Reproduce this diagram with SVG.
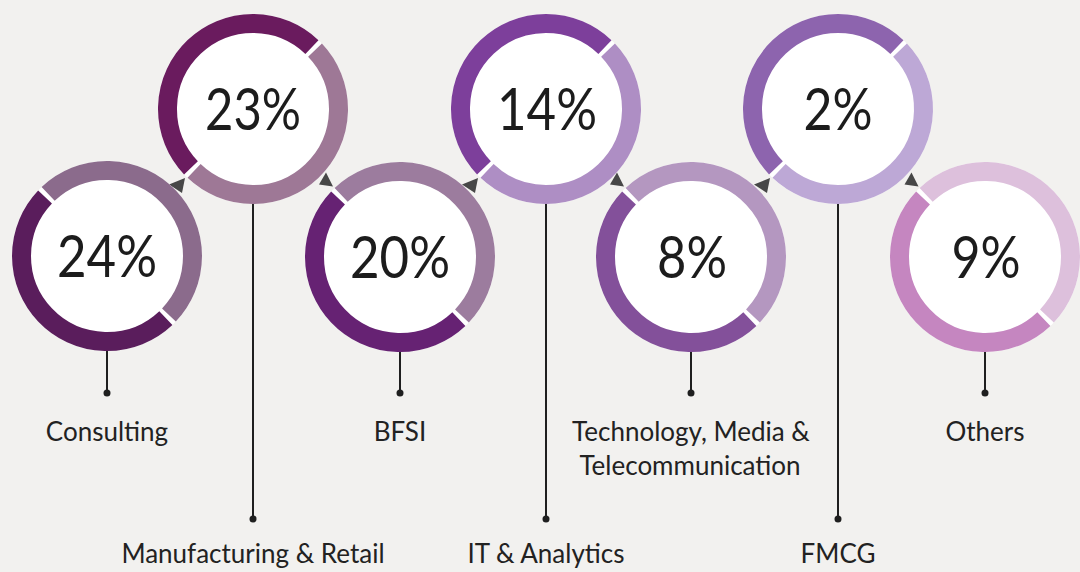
<svg xmlns="http://www.w3.org/2000/svg" width="1080" height="572" viewBox="0 0 1080 572">
<style>
.bg{fill:#f2f1ef}
.disc{fill:#ffffff}
.seg{fill:none;stroke-width:19}
.pct{font-family:"Lato","Liberation Sans",sans-serif;font-size:58px;fill:#1c1c1c;text-anchor:middle}
.lbl{font-family:"Lato","Liberation Sans",sans-serif;font-size:26px;fill:#222222;text-anchor:middle}
.stem{stroke:#1f1f1f;stroke-width:2;fill:none}
.dot{fill:#1f1f1f}
.tri{fill:#474747}
</style>
<rect class="bg" x="0" y="0" width="1080" height="572"/>
<g id="connectors">
<line class="stem" x1="107" y1="350" x2="107" y2="393"/><circle class="dot" cx="107" cy="393" r="3.5"/>
<line class="stem" x1="253" y1="204" x2="253" y2="519"/><circle class="dot" cx="253" cy="519" r="3.5"/>
<line class="stem" x1="400" y1="351" x2="400" y2="393"/><circle class="dot" cx="400" cy="393" r="3.5"/>
<line class="stem" x1="546" y1="204" x2="546" y2="519"/><circle class="dot" cx="546" cy="519" r="3.5"/>
<line class="stem" x1="691" y1="351" x2="691" y2="393"/><circle class="dot" cx="691" cy="393" r="3.5"/>
<line class="stem" x1="838" y1="204" x2="838" y2="519"/><circle class="dot" cx="838" cy="519" r="3.5"/>
<line class="stem" x1="985" y1="351" x2="985" y2="393"/><circle class="dot" cx="985" cy="393" r="3.5"/>
<polygon class="tri" points="169,184.5 185,178 182,193"/>
<polygon class="tri" points="326,172.5 319,184.5 333,186.5"/>
<polygon class="tri" points="462,184.5 478,178 475,193"/>
<polygon class="tri" points="617,172.5 610,184.5 624,186.5"/>
<polygon class="tri" points="754,184.5 770,178 767,193"/>
<polygon class="tri" points="911.5,172.5 904.5,184.5 918.5,186.5"/>
</g>
<g id="node-consulting">
<circle class="disc" cx="107" cy="256" r="95"/>
<circle class="seg" cx="107" cy="256" r="85.5" pathLength="360" stroke-dasharray="177 183" transform="rotate(46.5 107 256)" stroke="#5a1d5c"/>
<circle class="seg" cx="107" cy="256" r="85.5" pathLength="360" stroke-dasharray="177 183" transform="rotate(226.5 107 256)" stroke="#8b6b8c"/>
<text class="pct" x="107" y="277" textLength="100" lengthAdjust="spacingAndGlyphs">24%</text>
<text class="lbl" x="107" y="441">Consulting</text>
</g>
<g id="node-manufacturing">
<circle class="disc" cx="253" cy="109" r="95"/>
<circle class="seg" cx="253" cy="109" r="85.5" pathLength="360" stroke-dasharray="177 183" transform="rotate(136.5 253 109)" stroke="#6a1b5e"/>
<circle class="seg" cx="253" cy="109" r="85.5" pathLength="360" stroke-dasharray="177 183" transform="rotate(316.5 253 109)" stroke="#9e7896"/>
<text class="pct" x="253" y="130" textLength="96" lengthAdjust="spacingAndGlyphs">23%</text>
<text class="lbl" x="253" y="563">Manufacturing &amp; Retail</text>
</g>
<g id="node-bfsi">
<circle class="disc" cx="400" cy="257" r="95"/>
<circle class="seg" cx="400" cy="257" r="85.5" pathLength="360" stroke-dasharray="177 183" transform="rotate(46.5 400 257)" stroke="#662273"/>
<circle class="seg" cx="400" cy="257" r="85.5" pathLength="360" stroke-dasharray="177 183" transform="rotate(226.5 400 257)" stroke="#9c7c9e"/>
<text class="pct" x="400" y="278" textLength="100" lengthAdjust="spacingAndGlyphs">20%</text>
<text class="lbl" x="400" y="441">BFSI</text>
</g>
<g id="node-it">
<circle class="disc" cx="546" cy="109" r="95"/>
<circle class="seg" cx="546" cy="109" r="85.5" pathLength="360" stroke-dasharray="177 183" transform="rotate(136.5 546 109)" stroke="#7d3f9b"/>
<circle class="seg" cx="546" cy="109" r="85.5" pathLength="360" stroke-dasharray="177 183" transform="rotate(316.5 546 109)" stroke="#ae8ec4"/>
<text class="pct" x="547" y="130" textLength="100" lengthAdjust="spacingAndGlyphs">14%</text>
<text class="lbl" x="546" y="563">IT &amp; Analytics</text>
</g>
<g id="node-tmt">
<circle class="disc" cx="691" cy="257" r="95"/>
<circle class="seg" cx="691" cy="257" r="85.5" pathLength="360" stroke-dasharray="177 183" transform="rotate(46.5 691 257)" stroke="#83509a"/>
<circle class="seg" cx="691" cy="257" r="85.5" pathLength="360" stroke-dasharray="177 183" transform="rotate(226.5 691 257)" stroke="#b497c0"/>
<text class="pct" x="692" y="278" textLength="70" lengthAdjust="spacingAndGlyphs">8%</text>
<text class="lbl" x="691" y="441">Technology, Media &amp;</text>
<text class="lbl" x="690" y="475">Telecommunication</text>
</g>
<g id="node-fmcg">
<circle class="disc" cx="838" cy="109" r="95"/>
<circle class="seg" cx="838" cy="109" r="85.5" pathLength="360" stroke-dasharray="177 183" transform="rotate(136.5 838 109)" stroke="#8d64ae"/>
<circle class="seg" cx="838" cy="109" r="85.5" pathLength="360" stroke-dasharray="177 183" transform="rotate(316.5 838 109)" stroke="#bda8d6"/>
<text class="pct" x="838" y="130" textLength="69" lengthAdjust="spacingAndGlyphs">2%</text>
<text class="lbl" x="838" y="563">FMCG</text>
</g>
<g id="node-others">
<circle class="disc" cx="985" cy="257" r="95"/>
<circle class="seg" cx="985" cy="257" r="85.5" pathLength="360" stroke-dasharray="177 183" transform="rotate(46.5 985 257)" stroke="#c586c0"/>
<circle class="seg" cx="985" cy="257" r="85.5" pathLength="360" stroke-dasharray="177 183" transform="rotate(226.5 985 257)" stroke="#ddc0dc"/>
<text class="pct" x="986" y="278" textLength="69" lengthAdjust="spacingAndGlyphs">9%</text>
<text class="lbl" x="985" y="441">Others</text>
</g>
</svg>
